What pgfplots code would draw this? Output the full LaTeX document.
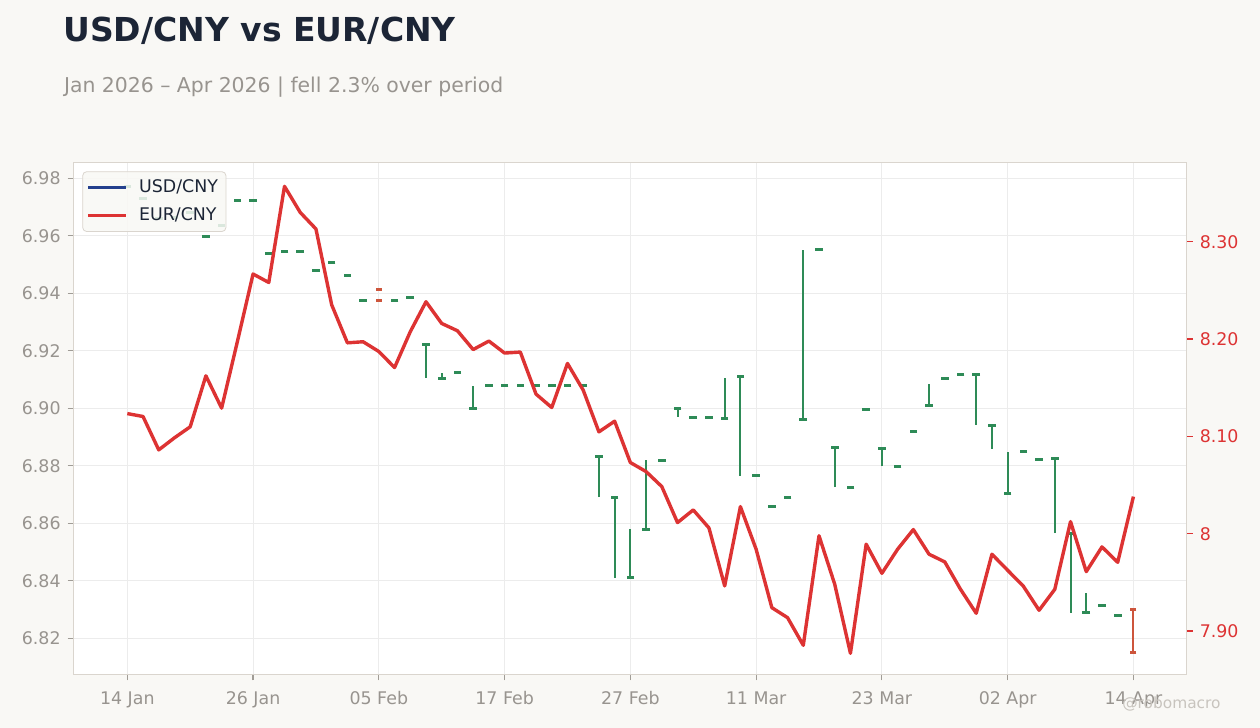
\documentclass[border=0pt]{standalone}
\usepackage{fontspec}
\setmainfont{DejaVu Sans}
\usepackage{pgfplots}
\pgfplotsset{compat=1.18}
\usepackage{pgfplotstable}

\definecolor{bgc}{RGB}{249,248,245}
\definecolor{framec}{RGB}{218,213,206}
\definecolor{gridc}{RGB}{236,236,236}
\definecolor{tickc}{RGB}{160,156,150}
\definecolor{labc}{RGB}{152,148,143}
\definecolor{titlec}{RGB}{28,37,54}
\definecolor{upg}{RGB}{46,139,87}
\definecolor{dnr}{RGB}{205,85,60}
\definecolor{eurc}{RGB}{221,51,51}
\definecolor{usdc}{RGB}{36,64,142}
\definecolor{wmc}{RGB}{200,196,190}

% USD/CNY vertical ranges (low, high)
\pgfplotstableread{
i lo hi
19 6.9107 6.9222
20 6.9103 6.9124
22 6.8999 6.9079
30 6.8691 6.8831
31 6.8410 6.8691
32 6.8410 6.8579
33 6.8579 6.8819
35 6.8970 6.8999
38 6.8964 6.9107
39 6.8765 6.9109
43 6.8962 6.9552
45 6.8726 6.8862
48 6.8799 6.8860
51 6.9010 6.9086
54 6.8943 6.9116
55 6.8860 6.8941
56 6.8704 6.8848
59 6.8566 6.8825
60 6.8289 6.8566
61 6.8288 6.8356
}\usdbars

% USD/CNY tick marks (green)
\pgfplotstableread{
i y
0 6.9773
1 6.9729
2 6.9660
3 6.9665
4 6.9680
5 6.9598
6 6.9637
7 6.9723
8 6.9723
9 6.9539
10 6.9544
11 6.9544
12 6.9481
13 6.9509
14 6.9463
15 6.9376
17 6.9376
18 6.9387
19 6.9222
20 6.9103
21 6.9126
22 6.8999
23 6.9080
24 6.9080
25 6.9080
26 6.9080
27 6.9080
28 6.9080
29 6.9080
30 6.8831
31 6.8691
32 6.8410
33 6.8579
34 6.8819
35 6.8999
36 6.8969
37 6.8969
38 6.8964
39 6.9109
40 6.8765
41 6.8657
42 6.8688
43 6.8962
44 6.9554
45 6.8862
46 6.8726
47 6.8997
48 6.8860
49 6.8798
50 6.8918
51 6.9010
52 6.9105
53 6.9116
54 6.9116
55 6.8941
56 6.8704
57 6.8850
58 6.8823
59 6.8825
60 6.8566
61 6.8288
62 6.8315
63 6.8278
}\usdcaps

% USD/CNY down days (red)
\pgfplotstableread{
i lo hi
64 6.8150 6.8300
}\usddownbars
\pgfplotstableread{
i y
16 6.9376
16 6.9414
64 6.8300
64 6.8150
}\usddowncaps

% EUR/CNY
\pgfplotstableread{
i y
0 8.1234
1 8.1204
2 8.0861
3 8.0985
4 8.1098
5 8.1622
6 8.1290
7 8.1972
8 8.2668
9 8.2581
10 8.3569
11 8.3301
12 8.3131
13 8.2352
14 8.1961
15 8.1972
16 8.1872
17 8.1707
18 8.2075
19 8.2383
20 8.2160
21 8.2085
22 8.1892
23 8.1979
24 8.1856
25 8.1866
26 8.1434
27 8.1296
28 8.1749
29 8.1475
30 8.1046
31 8.1156
32 8.0731
33 8.0638
34 8.0484
35 8.0114
36 8.0244
37 8.0059
38 7.9463
39 8.0278
40 7.9840
41 7.9240
42 7.9137
43 7.8853
44 7.9979
45 7.9480
46 7.8771
47 7.9892
48 7.9593
49 7.9840
50 8.0042
51 7.9789
52 7.9710
53 7.9429
54 7.9182
55 7.9789
56 7.9624
57 7.9460
58 7.9213
59 7.9429
60 8.0124
61 7.9610
62 7.9864
63 7.9706
64 8.0381
}\eurdata

\begin{document}
\begin{tikzpicture}
\fill[bgc] (0,0) rectangle (630pt,364pt);

\begin{axis}[
  at={(36.65pt,26.65pt)}, anchor=south west,
  scale only axis, width=556.7pt, height=256.2pt,
  xmin=-3.435, xmax=67.39, ymin=6.8073, ymax=6.9856,
  axis background/.style={fill=white},
  axis line style={draw=framec, line width=0.6pt},
  tick align=outside, tick pos=left, major tick length=2.8pt,
  tick style={draw=tickc, line width=0.6pt},
  xtick={0,8,16,24,32,40,48,56,64},
  xticklabels={14 Jan,26 Jan,05 Feb,17 Feb,27 Feb,11 Mar,23 Mar,02 Apr,14 Apr},
  ytick={6.82,6.84,6.86,6.88,6.90,6.92,6.94,6.96,6.98},
  yticklabels={6.82,6.84,6.86,6.88,6.90,6.92,6.94,6.96,6.98},
  grid=major, grid style={draw=gridc, line width=0.5pt},
  ticklabel style={font=\fontsize{8.7}{10}\selectfont, text=labc},
  xticklabel style={yshift=-2pt},
]
\addplot[only marks, mark=*, mark size=0.1pt,
  mark options={draw opacity=0, fill opacity=0},
  error bars/.cd, y dir=plus, y explicit, error mark=none,
  error bar style={line width=1pt, draw=upg, draw opacity=1}]
  table[x=i, y=lo, y error expr=\thisrow{hi}-\thisrow{lo}] {\usdbars};
\addplot[only marks, mark=-, mark size=1.9pt, color=upg,
  mark options={line width=1.5pt, color=upg}]
  table[x=i, y=y] {\usdcaps};
\addplot[only marks, mark=*, mark size=0.1pt,
  mark options={draw opacity=0, fill opacity=0},
  error bars/.cd, y dir=plus, y explicit, error mark=none,
  error bar style={line width=1pt, draw=dnr, draw opacity=1}]
  table[x=i, y=lo, y error expr=\thisrow{hi}-\thisrow{lo}] {\usddownbars};
\addplot[only marks, mark=-, mark size=1.5pt, color=dnr,
  mark options={line width=1.3pt, color=dnr}]
  table[x=i, y=y] {\usddowncaps};
\end{axis}

\begin{axis}[
  at={(36.65pt,26.65pt)}, anchor=south west,
  scale only axis, width=556.7pt, height=256.2pt,
  xmin=-3.435, xmax=67.39, ymin=7.8551, ymax=8.3816,
  axis x line=none, axis y line*=right,
  axis line style={draw=framec, line width=0.6pt},
  tick align=outside, major tick length=3pt,
  ytick={7.9,8.0,8.1,8.2,8.3},
  yticklabels={7.90,8,8.10,8.20,8.30},
  ytick style={draw=eurc, line width=0.6pt},
  yticklabel style={font=\fontsize{8.7}{10}\selectfont, text=eurc},
  legend style={at={(0,1)}, anchor=north west, xshift=4.5pt, yshift=-4.5pt,
    draw=framec, fill=bgc, fill opacity=0.85, text opacity=1, draw opacity=1,
    rounded corners=2pt, font=\fontsize{8.7}{11}\selectfont, text=titlec,
    inner xsep=2pt, inner ysep=2pt, row sep=2pt,
    /tikz/every odd column/.append style={column sep=3.5pt}},
  legend cell align=left,
  legend image code/.code={\draw[#1] (0pt,0pt) -- (19pt,0pt);},
]
\addlegendimage{usdc, line width=1.6pt}
\addlegendentry{USD/CNY}
\addplot[eurc, line width=1.7pt, mark=none, line join=round] table[x=i, y=y] {\eurdata};
\addlegendentry{EUR/CNY}
\end{axis}

\node[anchor=base west, inner sep=0, font=\fontsize{16.5}{19}\selectfont\bfseries, text=titlec] at (31.5pt,343.2pt) {USD/CNY vs EUR/CNY};
\node[anchor=base west, inner sep=0, font=\fontsize{10.2}{12}\selectfont, text=labc] at (31.8pt,317.7pt) {Jan 2026 – Apr 2026 | fell 2.3\% over period};
\node[anchor=base east, inner sep=0, font=\fontsize{7.7}{9}\selectfont, text=wmc] at (610.5pt,9.5pt) {@robomacro};

\pgfresetboundingbox
\useasboundingbox (0,0) rectangle (630pt,364pt);
\end{tikzpicture}
\end{document}
